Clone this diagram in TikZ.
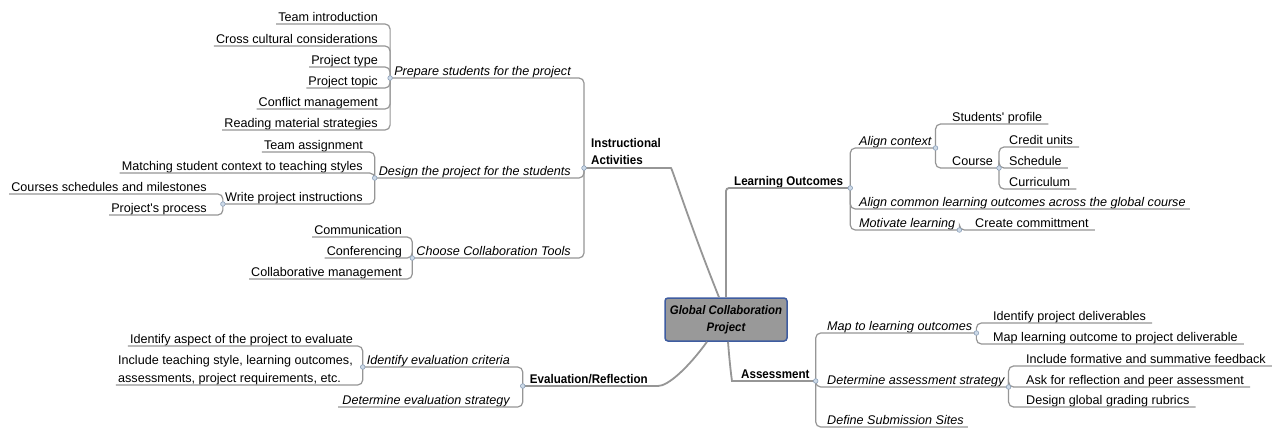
\documentclass[tikz,border=0pt]{standalone}
\usepackage{fontspec}
\setmainfont{Liberation Sans}
\newfontfamily\topicfont{Liberation Sans}[FakeStretch=0.92]
\usepackage{xcolor}
\definecolor{branchgray}{RGB}{150,150,150}
\definecolor{hubfill}{RGB}{153,153,153}
\definecolor{hubedge}{RGB}{62,92,160}
\definecolor{knotfill}{RGB}{205,218,232}
\definecolor{knotedge}{RGB}{140,160,185}

\begin{document}
\begin{tikzpicture}[
    x=1pt, y=-1pt,
    every node/.style={inner sep=0pt},
    oneline/.style={text height=9pt, text depth=2.5pt},
    leaf/.style={oneline, font=\fontsize{12.6}{15}\selectfont, inner xsep=2pt},
    rleaf/.style={leaf, inner xsep=6pt},
    subtopic/.style={oneline, font=\fontsize{12.6}{15}\selectfont\itshape, inner xsep=4pt},
    note/.style={font=\fontsize{12.6}{18}\selectfont, inner xsep=2pt, align=left},
    maintopic/.style={font=\fontsize{12.6}{17}\topicfont\bfseries, inner xsep=7pt, align=left},
    hub/.style={rectangle, rounded corners=3pt, draw=hubedge, line width=1.5pt, fill=hubfill, minimum width=122pt, minimum height=43pt, align=center, font=\fontsize{12.4}{17}\topicfont\bfseries\itshape},
    link/.style={draw=branchgray, line width=1.2pt, rounded corners=5pt},
    trunk/.style={draw=branchgray, line width=1.8pt, rounded corners=3pt},
    knot/.style={fill=knotfill, draw=knotedge, line width=0.6pt},
]
\path[fill=white] (0,0) rectangle (1273,432);
\useasboundingbox (0,0) rectangle (1273,432);

% -- centre --
\node[hub] (gcp) at (726,319.5) {Global Collaboration\\Project};

% -- main topics --
\node[maintopic, inner ysep=3.5pt, anchor=south west] (ia) at (584,168) {Instructional\\Activities};
\node[maintopic, oneline, anchor=south west] (lo) at (727,188) {Learning Outcomes};
\node[maintopic, oneline, anchor=south west, inner xsep=6pt] (as) at (735,381) {Assessment};
\node[maintopic, oneline, anchor=south east] (ev) at (655,386) {Evaluation/Reflection};

% -- instructional activities --
\node[subtopic, anchor=south east] (prep) at (575,78) {Prepare students for the project};
\node[subtopic, anchor=south east] (design) at (575,178) {Design the project for the students};
\node[subtopic, anchor=south east] (tools) at (575,258) {Choose Collaboration Tools};

\node[leaf, anchor=south east] (intro) at (380,24) {Team introduction};
\node[leaf, anchor=south east] (crossc) at (380,46) {Cross cultural considerations};
\node[leaf, anchor=south east] (ptype) at (380,67) {Project type};
\node[leaf, anchor=south east] (ptopic) at (380,88) {Project topic};
\node[leaf, anchor=south east] (conflict) at (380,109) {Conflict management};
\node[leaf, anchor=south east] (reading) at (380,130) {Reading material strategies};

\node[leaf, anchor=south east] (assign) at (365,152) {Team assignment};
\node[leaf, anchor=south east] (matching) at (365,173) {Matching student context to teaching styles};
\node[leaf, anchor=south east] (write) at (365,204) {Write project instructions};
\node[leaf, anchor=south east] (courses) at (209,194) {Courses schedules and milestones};
\node[leaf, anchor=south east] (process) at (209,215) {Project\textquotesingle s process};

\node[leaf, anchor=south east] (comm) at (404,237) {Communication};
\node[leaf, anchor=south east] (conf) at (404,258) {Conferencing};
\node[leaf, anchor=south east] (collab) at (404,279) {Collaborative management};

% -- evaluation / reflection --
\node[subtopic, anchor=south east] (criteria) at (514,367) {Identify evaluation criteria};
\node[subtopic, anchor=south east] (evstrat) at (514,407) {Determine evaluation strategy};
\node[leaf, anchor=south east] (aspect) at (355,346) {Identify aspect of the project to evaluate};
\node[note, anchor=south east] (include) at (355,385) {Include teaching style, learning outcomes,\\assessments, project requirements, etc.};

% -- learning outcomes --
\node[subtopic, anchor=south west] (align) at (855,148) {Align context};
\node[subtopic, anchor=south west] (common) at (855,209) {Align common learning outcomes across the global course};
\node[subtopic, anchor=south west] (motivate) at (855,230) {Motivate learning};
\node[rleaf, anchor=south west] (create) at (969,230) {Create committment};
\node[rleaf, anchor=south west] (profile) at (946,124) {Students\textquotesingle\ profile};
\node[rleaf, anchor=south west] (course) at (946,168) {Course};
\node[rleaf, anchor=south west] (credit) at (1003,147) {Credit units};
\node[rleaf, anchor=south west] (schedule) at (1003,168) {Schedule};
\node[rleaf, anchor=south west] (curriculum) at (1003,189) {Curriculum};

% -- assessment --
\node[subtopic, anchor=south west] (mapto) at (823,333) {Map to learning outcomes};
\node[subtopic, anchor=south west] (determine) at (823,387) {Determine assessment strategy};
\node[subtopic, anchor=south west] (define) at (823,427) {Define Submission Sites};
\node[rleaf, anchor=south west] (deliv) at (987,323) {Identify project deliverables};
\node[rleaf, anchor=south west] (mapdel) at (987,344) {Map learning outcome to project deliverable};
\node[rleaf, anchor=south west] (formative) at (1020,366) {Include formative and summative feedback};
\node[rleaf, anchor=south west] (reflect) at (1020,387) {Ask for reflection and peer assessment};
\node[rleaf, anchor=south west] (rubrics) at (1020,407) {Design global grading rubrics};

% -- trunks --
\draw[trunk] ([xshift=-7pt]gcp.north) .. controls (690,225) and (672,168) .. (ia.south east) -- (ia.south west);
\draw[trunk] (gcp.north) |- (lo.south east);
\draw[trunk] ([xshift=2pt]gcp.south) .. controls (730,368) and (732,381) .. (as.south west) -- (as.south east);
\draw[trunk] ([xshift=-19pt]gcp.south) .. controls (688,368) and (668,386) .. (ev.south east) -- (ev.south west);

% -- branches --
\draw[link] (ia.south west) |- (prep.south west);
\draw[link] (ia.south west) |- (design.south west);
\draw[link] (ia.south west) |- (tools.south west);
\draw[link] (prep.south west) |- (intro.south west);
\draw[link] (prep.south west) |- (crossc.south west);
\draw[link] (prep.south west) |- (ptype.south west);
\draw[link] (prep.south west) |- (ptopic.south west);
\draw[link] (prep.south west) |- (conflict.south west);
\draw[link] (prep.south west) |- (reading.south west);
\draw[link] (design.south west) |- (assign.south west);
\draw[link] (design.south west) |- (matching.south west);
\draw[link] (design.south west) |- (write.south west);
\draw[link] (write.south west) |- (courses.south west);
\draw[link] (write.south west) |- (process.south west);
\draw[link] (tools.south west) |- (comm.south west);
\draw[link] (tools.south west) |- (conf.south west);
\draw[link] (tools.south west) |- (collab.south west);

\draw[link] (ev.south west) |- (criteria.south west);
\draw[link] (ev.south west) |- (evstrat.south west);
\draw[link] (criteria.south west) |- (aspect.south west);
\draw[link] (criteria.south west) |- (include.south west);

\draw[link] (lo.south east) |- (align.south east);
\draw[link] (lo.south east) |- (common.south east);
\draw[link] (lo.south east) |- (motivate.south east);
\draw[link] (motivate.south east) |- (create.south east);
\draw[link] (align.south east) |- (profile.south east);
\draw[link] (align.south east) |- (course.south east);
\draw[link] (course.south east) |- (credit.south east);
\draw[link] (course.south east) |- (schedule.south east);
\draw[link] (course.south east) |- (curriculum.south east);

\draw[link] (as.south east) |- (mapto.south east);
\draw[link] (as.south east) |- (determine.south east);
\draw[link] (as.south east) |- (define.south east);
\draw[link] (mapto.south east) |- (deliv.south east);
\draw[link] (mapto.south east) |- (mapdel.south east);
\draw[link] (determine.south east) |- (formative.south east);
\draw[link] (determine.south east) |- (reflect.south east);
\draw[link] (determine.south east) |- (rubrics.south east);

% -- knots --
\foreach \p in {ia.south west, prep.south west, design.south west, write.south west, tools.south west,
                ev.south west, criteria.south west, lo.south east, align.south east, course.south east,
                motivate.south east, as.south east, mapto.south east, determine.south east}
  \filldraw[knot] (\p) circle (2.3pt);

\end{tikzpicture}
\end{document}
